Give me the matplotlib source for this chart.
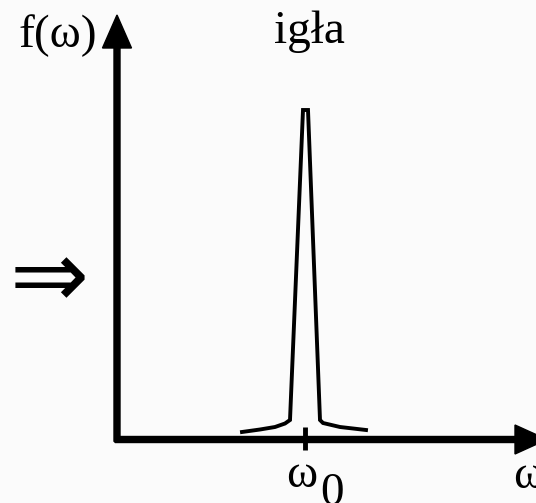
import matplotlib
matplotlib.use("Agg")
import matplotlib.pyplot as plt

# peak shape ("igła"), omega and f in pixel-sized units, origin at the axes crossing
omega = [125, 143, 158, 168, 173, 186, 191, 203, 206, 223, 249]
f_val = [7.5, 10, 12.5, 16, 19.5, 329.5, 329.5, 19.5, 16.5, 12.5, 9.5]
omega0 = 188

title = "igła"
y_label = "f(ω)"
x_label = "ω"
tick_label = "ω"
tick_sub = "0"
arrow_sign = "⇒"

serif = ["Liberation Serif", "DejaVu Serif"]

fig = plt.figure(figsize=(5.36, 5.03), dpi=100, facecolor="#fbfbfb")
ax = fig.add_axes([0, 0, 1, 1])
ax.set_facecolor("#fbfbfb")
ax.set_xlim(-117, 419)
ax.set_ylim(-63.5, 439.5)
ax.axis("off")

# axes with arrow heads
ax.arrow(-2, 0, 432, 0, width=6, head_width=29, head_length=32,
         length_includes_head=True, color="k", clip_on=False)
ax.arrow(0, -2, 0, 426.5, width=6, head_width=29, head_length=33,
         length_includes_head=True, color="k")

# tick at omega0
ax.plot([omega0, omega0], [-10.5, 12.5], color="k", lw=3.5, solid_capstyle="butt")

# the needle
ax.plot(omega, f_val, color="k", lw=2.8, solid_joinstyle="miter")

ax.text(-99, 392.5, y_label, family=serif, fontsize=34, ha="left", va="baseline")
ax.text(192, 396.5, title, family=serif, fontsize=34, ha="center", va="baseline")
ax.text(185, -47.5, tick_label, family=serif, fontsize=34, ha="center", va="baseline")
ax.text(203, -65.5, tick_sub, family=serif, fontsize=34, ha="left", va="baseline")
ax.text(396, -48.5, x_label, family=serif, fontsize=34, ha="left", va="baseline")
ax.text(-68, 158.5, arrow_sign, family=["DejaVu Sans"], fontsize=68,
        ha="center", va="center")

fig.savefig("out.png", dpi=100, facecolor=fig.get_facecolor())
